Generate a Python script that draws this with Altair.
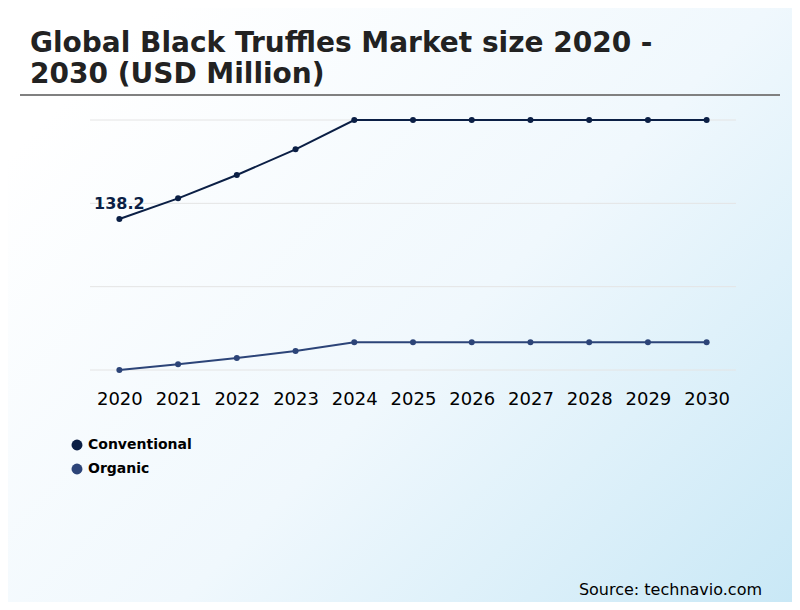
import altair as alt
import pandas as pd

years = [str(y) for y in range(2020, 2031)]
conventional = [138.2, 150.6, 164.6, 180.0, 197.6, 197.6, 197.6, 197.6, 197.6, 197.6, 197.6]
organic = [47.6, 51.0, 54.8, 59.0, 64.2, 64.2, 64.2, 64.2, 64.2, 64.2, 64.2]
series_names = ["Conventional", "Organic"]
series_colors = ["#0b1f45", "#2c4478"]
grid_values = [47.6, 97.6, 147.6, 197.6]
title_lines = ["Global Black Truffles Market size 2020 -", "2030 (USD Million)"]
source_text = "Source: technavio.com"

W, H = 646, 250
PAD_L, PAD_T = 82, 112
SVG_W, SVG_H = 784, 594

rows = []
for y, c, o in zip(years, conventional, organic):
    rows.append({"year": y, "series": "Conventional", "value": c})
    rows.append({"year": y, "series": "Organic", "value": o})
df = pd.DataFrame(rows)

FONT = "DejaVu Sans"

xenc = alt.X("year:O", scale=alt.Scale(type="point", padding=0.5),
             axis=alt.Axis(title=None, labelAngle=0, ticks=False, domain=False, grid=False,
                           labelFontSize=18, labelFont=FONT, labelColor="#000000",
                           labelPadding=20, zindex=1))
yscale = alt.Scale(domain=[47.6, 197.6], nice=False, zero=False)
yenc = alt.Y("value:Q", scale=yscale, axis=None)
cscale = alt.Scale(domain=series_names, range=series_colors)
legend = alt.Legend(title=None, orient="none", legendX=-20, legendY=318,
                    symbolType="circle", symbolSize=120, symbolStrokeWidth=0,
                    symbolFillColor="#0b1f45",
                    labelFont=FONT, labelFontSize=14, labelFontWeight="bold",
                    labelColor="#000000", labelOffset=4, rowPadding=10, zindex=1)

bg = alt.Chart(alt.Data(values=[{"a": 1}])).mark_rect(
    fill=alt.LinearGradient(
        gradient="linear", x1=0, y1=0.25, x2=1, y2=1,
        stops=[alt.GradientStop(offset=0, color="#ffffff"),
               alt.GradientStop(offset=0.5, color="#f0f8fd"),
               alt.GradientStop(offset=1, color="#c9e8f6")]),
    strokeWidth=0,
).encode(x=alt.value(-PAD_L), x2=alt.value(SVG_W - PAD_L),
         y=alt.value(-PAD_T), y2=alt.value(SVG_H - PAD_T))

grid = alt.Chart(pd.DataFrame({"value": grid_values})).mark_rule(
    color="#e4e4e4", strokeWidth=1).encode(y=yenc)

base = alt.Chart(df)
lines = base.mark_line(strokeWidth=2).encode(
    x=xenc, y=yenc,
    color=alt.Color("series:N", scale=cscale, legend=legend))
points = base.mark_point(filled=True, size=36, opacity=1).encode(
    x=xenc, y=yenc,
    color=alt.Color("series:N", scale=cscale, legend=legend))

label = base.transform_filter(
    (alt.datum.series == "Conventional") & (alt.datum.year == "2020")
).mark_text(font=FONT, fontSize=16, fontWeight="bold", color="#0b1f45",
            dy=-15, align="center", baseline="middle").encode(
    x=xenc, y=yenc, text=alt.Text("value:Q", format=".1f"))

title1 = alt.Chart(alt.Data(values=[{"t": title_lines[0]}])).mark_text(
    font=FONT, fontSize=28, fontWeight="bold", color="#222222", align="left",
    baseline="alphabetic").encode(x=alt.value(-60), y=alt.value(-68), text="t:N")
title2 = alt.Chart(alt.Data(values=[{"t": title_lines[1]}])).mark_text(
    font=FONT, fontSize=28, fontWeight="bold", color="#222222", align="left",
    baseline="alphabetic").encode(x=alt.value(-60), y=alt.value(-37), text="t:N")

sep = alt.Chart(alt.Data(values=[{"a": 1}])).mark_rule(color="#808080", strokeWidth=2).encode(
    x=alt.value(-70), x2=alt.value(690), y=alt.value(-25))

source = alt.Chart(alt.Data(values=[{"t": source_text}])).mark_text(
    font=FONT, fontSize=16, color="#000000", align="right", baseline="alphabetic").encode(
    x=alt.value(672), y=alt.value(475), text="t:N")

chart = alt.layer(bg, grid, lines, points, label, title1, title2, sep, source).properties(
    width=W, height=H,
    autosize=alt.AutoSizeParams(type="none"),
    padding={"left": PAD_L, "top": PAD_T, "right": SVG_W - PAD_L - W, "bottom": SVG_H - PAD_T - H},
    background="white",
).configure_view(strokeWidth=0)

chart.save("out.html", embed_options={"renderer": "svg", "actions": False})
